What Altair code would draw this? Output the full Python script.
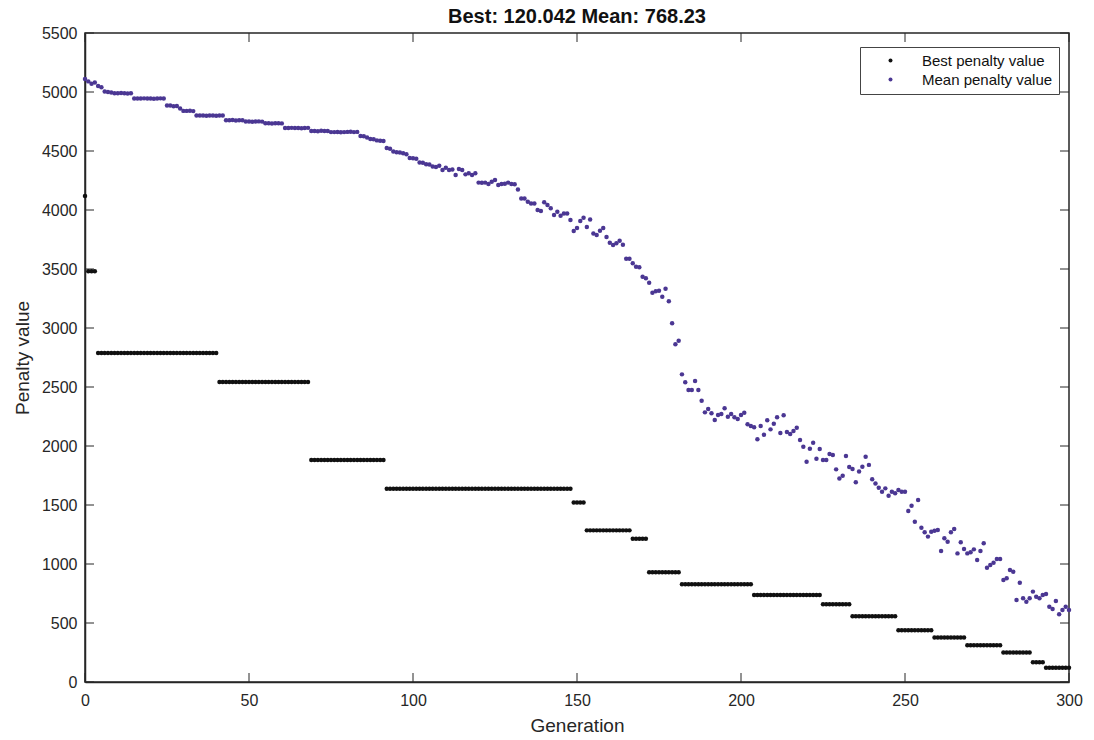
import altair as alt
import pandas as pd

# ---- data ----
generations = list(range(0, 301))

# best penalty value: step levels and the number of generations each lasts
best_levels = [4118, 3480, 2788, 2542, 1881, 1638, 1522, 1285, 1214, 931,
               828, 738, 659, 557, 439, 377, 311, 250, 168, 120.042]
best_runs = [1, 3, 37, 28, 23, 57, 4, 14, 5, 10,
             22, 21, 9, 14, 11, 10, 11, 9, 4, 8]

mean_values = [
    5110, 5090, 5070, 5080, 5050, 5040, 5005, 5000, 4995, 4990,  # 0-9
    4990, 4992, 4990, 4988, 4990, 4945, 4945, 4944, 4946, 4945,  # 10-19
    4945, 4943, 4945, 4946, 4944, 4885, 4885, 4880, 4882, 4860,  # 20-29
    4840, 4840, 4842, 4838, 4800, 4800, 4801, 4799, 4800, 4800,  # 30-39
    4798, 4800, 4801, 4760, 4760, 4762, 4758, 4760, 4760, 4750,  # 40-49
    4750, 4748, 4750, 4751, 4749, 4735, 4735, 4733, 4736, 4735,  # 50-59
    4734, 4695, 4695, 4696, 4694, 4695, 4693, 4695, 4696, 4670,  # 60-69
    4670, 4668, 4671, 4670, 4669, 4660, 4660, 4661, 4659, 4660,  # 70-79
    4662, 4664, 4660, 4662, 4627, 4625, 4615, 4602, 4600, 4590,  # 80-89
    4587, 4585, 4525, 4520, 4495, 4490, 4488, 4480, 4472, 4440,  # 90-99
    4438, 4435, 4402, 4400, 4388, 4385, 4368, 4365, 4375, 4339,  # 100-109
    4358, 4339, 4344, 4297, 4347, 4339, 4302, 4311, 4297, 4311,  # 110-119
    4232, 4230, 4232, 4220, 4240, 4254, 4212, 4220, 4222, 4232,  # 120-129
    4220, 4218, 4174, 4098, 4098, 4070, 4056, 4056, 4000, 3991,  # 130-139
    4065, 4042, 4014, 3957, 3985, 3951, 3971, 3971, 3915, 3822,  # 140-149
    3847, 3907, 3935, 3856, 3920, 3800, 3788, 3825, 3847, 3771,  # 150-159
    3723, 3703, 3718, 3740, 3706, 3587, 3587, 3548, 3520, 3514,  # 160-169
    3435, 3421, 3384, 3299, 3311, 3316, 3265, 3333, 3226, 3040,  # 170-179
    2862, 2892, 2607, 2540, 2475, 2475, 2551, 2475, 2384, 2285,  # 180-189
    2314, 2277, 2220, 2263, 2271, 2319, 2248, 2271, 2243, 2229,  # 190-199
    2263, 2282, 2184, 2170, 2159, 2057, 2170, 2096, 2218, 2141,  # 200-209
    2189, 2243, 2110, 2260, 2119, 2102, 2127, 2155, 2051, 1994,  # 210-219
    1867, 1977, 2028, 1892, 1975, 1881, 1881, 1932, 1924, 1802,  # 220-229
    1725, 1748, 1915, 1822, 1805, 1692, 1783, 1825, 1909, 1840,  # 230-239
    1718, 1683, 1647, 1613, 1641, 1579, 1613, 1599, 1627, 1613,  # 240-249
    1613, 1449, 1494, 1358, 1542, 1308, 1269, 1232, 1274, 1282,  # 250-259
    1288, 1110, 1218, 1189, 1269, 1297, 1090, 1184, 1127, 1090,  # 260-269
    1099, 1124, 1034, 1110, 1175, 969, 992, 1011, 1042, 1042,    # 270-279
    864, 879, 949, 935, 695, 842, 709, 681, 709, 766,            # 280-289
    723, 709, 737, 746, 638, 619, 686, 574, 610, 638,            # 290-299
    610,                                                         # 300
]

series_names = ["Best penalty value", "Mean penalty value"]
series_colors = ["#111111", "#4B3793"]
x_ticks = [0, 50, 100, 150, 200, 250, 300]
y_ticks = [0, 500, 1000, 1500, 2000, 2500, 3000, 3500, 4000, 4500, 5000, 5500]
title_text = "Best: 120.042 Mean: 768.23"

# ---- build tables ----
best_values = []
for lvl, run in zip(best_levels, best_runs):
    best_values.extend([lvl] * run)
assert len(best_values) == len(generations) == len(mean_values)

df = pd.DataFrame({
    "gen": generations * 2,
    "value": best_values + mean_values,
    "series": [series_names[0]] * len(generations) + [series_names[1]] * len(generations),
})
xt = pd.DataFrame({"gen": x_ticks})
yt = pd.DataFrame({"value": y_ticks})

W, H = 984, 649
FONT = "Liberation Sans"
AX = "#262626"

xscale = alt.Scale(domain=[0, 300], nice=False, zero=False)
yscale = alt.Scale(domain=[0, 5500], nice=False)

points = alt.Chart(df).mark_point(filled=True, shape="circle", size=20, opacity=1, strokeWidth=0).encode(
    x=alt.X("gen:Q", scale=xscale, title="Generation",
            axis=alt.Axis(values=x_ticks, ticks=False, grid=False, labelPadding=10,
                          titlePadding=8, format="d", labelFlush=False)),
    y=alt.Y("value:Q", scale=yscale, title="Penalty value",
            axis=alt.Axis(values=y_ticks, ticks=False, grid=False, labelPadding=8,
                          titlePadding=9, format="d", labelFlush=False)),
    color=alt.Color("series:N", scale=alt.Scale(domain=series_names, range=series_colors),
                    legend=alt.Legend(title=None, orient="none", legendX=775, legendY=14,
                                      strokeColor="#444444", fillColor="white",
                                      padding=6, symbolSize=16, symbolType="circle",
                                      symbolOffset=17, labelOffset=24,
                                      labelFontSize=15, labelFont=FONT, labelColor="#111111",
                                      rowPadding=3, symbolStrokeWidth=0)),
)

tick_style = dict(color=AX, strokeWidth=1)
bottom_ticks = alt.Chart(xt).mark_rule(**tick_style).encode(
    x=alt.X("gen:Q", scale=xscale), y=alt.value(H), y2=alt.value(H - 9))
top_ticks = alt.Chart(xt).mark_rule(**tick_style).encode(
    x=alt.X("gen:Q", scale=xscale), y=alt.value(0), y2=alt.value(9))
left_ticks = alt.Chart(yt).mark_rule(**tick_style).encode(
    y=alt.Y("value:Q", scale=yscale), x=alt.value(0), x2=alt.value(9))
right_ticks = alt.Chart(yt).mark_rule(**tick_style).encode(
    y=alt.Y("value:Q", scale=yscale), x=alt.value(W), x2=alt.value(W - 9))

chart = alt.layer(bottom_ticks, top_ticks, left_ticks, right_ticks, points).properties(
    width=W, height=H,
    title=alt.TitleParams(title_text, fontSize=20, fontWeight="bold", font=FONT,
                          color="#111111", offset=9, dy=11, anchor="middle", frame="group"),
    padding={"left": 85, "top": 33, "right": 25, "bottom": 58},
    autosize="none",
).configure_view(
    stroke=AX, strokeWidth=1.5
).configure_axis(
    domainColor=AX, domainWidth=1.5, labelFont=FONT, titleFont=FONT,
    labelFontSize=16, titleFontSize=19, labelColor=AX, titleColor=AX,
    titleFontWeight="normal",
)

chart.save("out.html", embed_options={"renderer": "svg", "actions": False})
